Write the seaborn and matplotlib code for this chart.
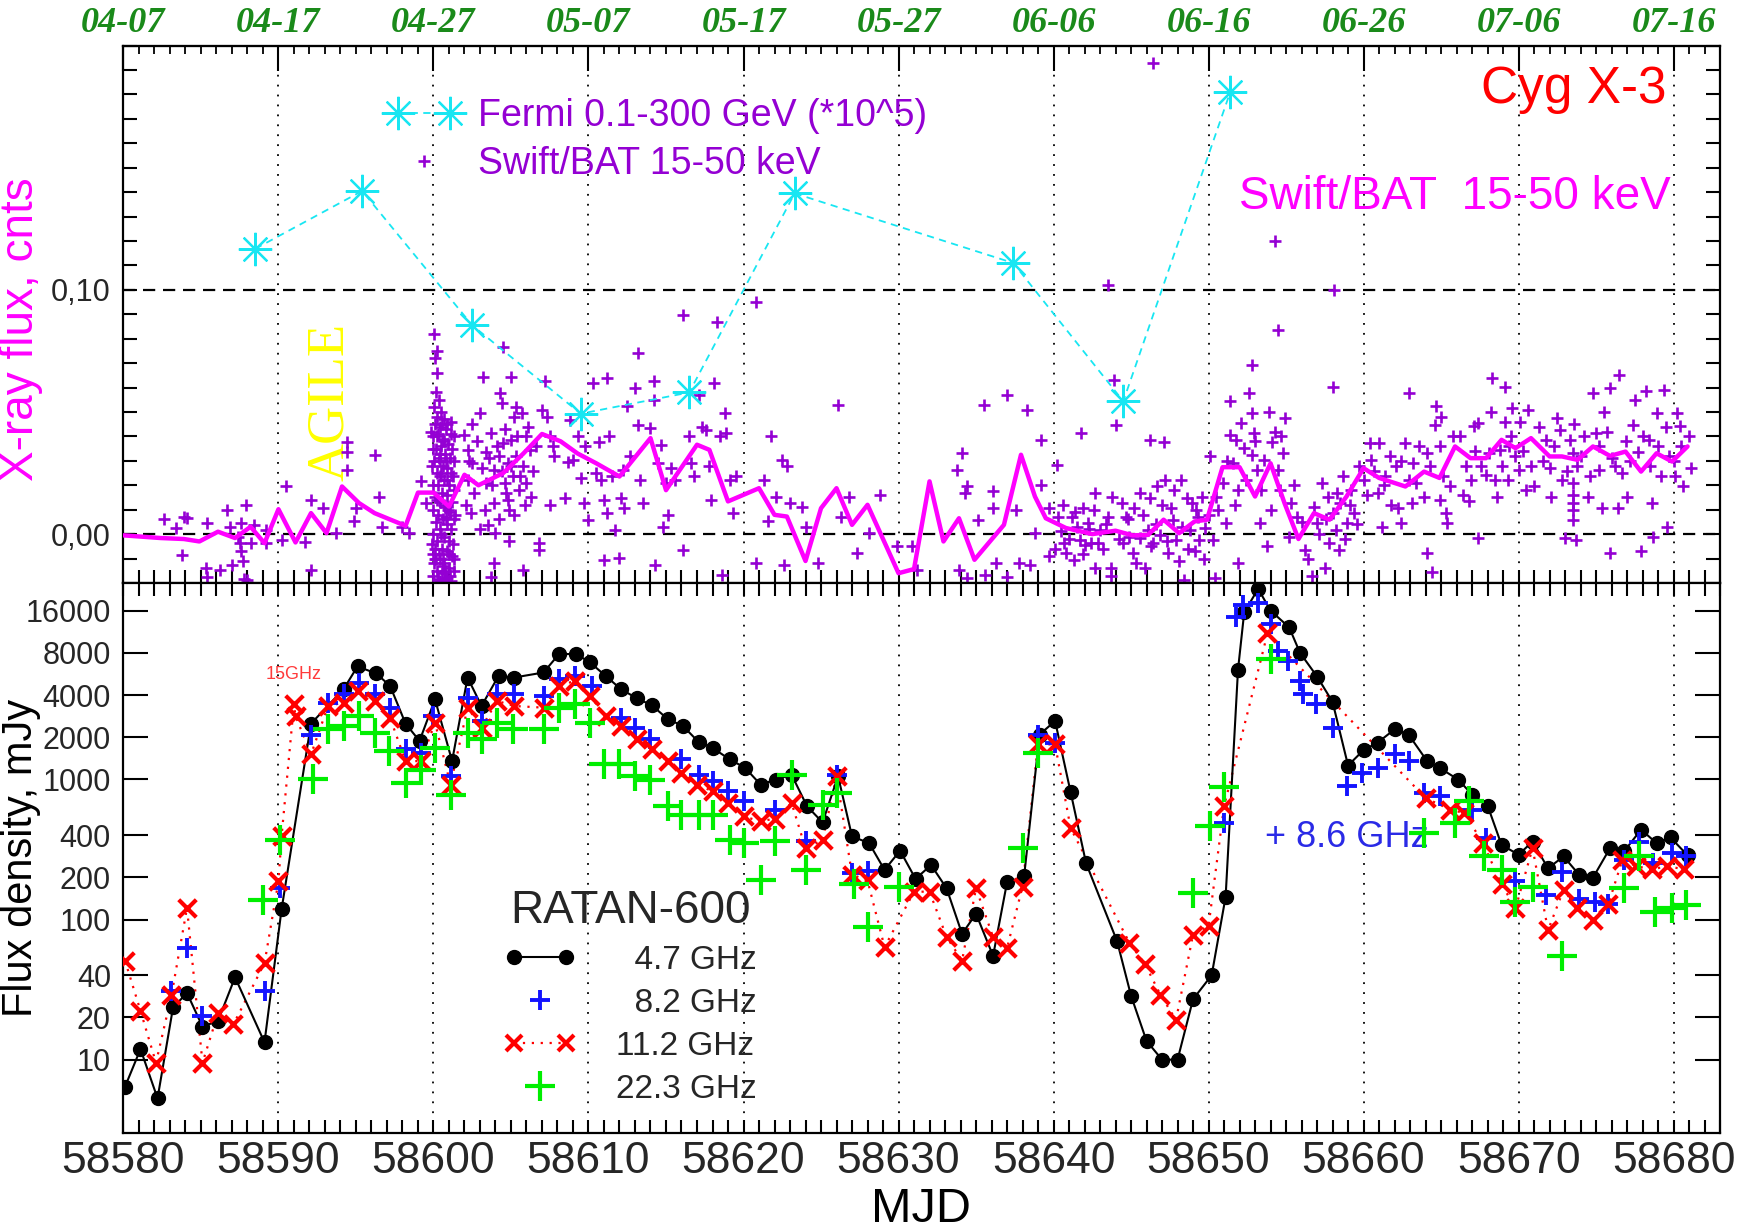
import matplotlib
matplotlib.use("Agg")
import numpy as np
import pandas as pd
import matplotlib.pyplot as plt
import seaborn as sns
from matplotlib.lines import Line2D
from matplotlib.legend_handler import HandlerLine2D
from matplotlib.ticker import FixedLocator, FixedFormatter, MultipleLocator, NullLocator
from matplotlib.font_manager import FontProperties

# ---------------- Swift/BAT 15-50 keV single measurements ----------------
bat_mjd_early = [58583.4, 58583.9, 58584.1, 58583.8, 58585.4, 58585.3, 58585.4, 58586.2, 58586.7, 58586.9,
                 58587.0, 58587.4, 58587.5, 58587.6, 58587.6, 58587.7, 58587.9, 58588.0, 58588.2, 58588.4,
                 58589.2, 58589.2, 58590.2, 58590.5, 58591.7, 58592.1, 58592.1, 58592.9, 58593.7, 58594.4,
                 58594.4, 58594.4, 58594.9, 58595.0, 58596.2, 58596.5, 58596.7, 58598.0, 58598.4, 58599.2,
                 58599.5, 58587.8, 58582.6]
bat_flux_early = [0.0025, 0.0072, 0.0065, -0.0085, 0.0045, -0.014, -0.0176, -0.0146, 0.010, 0.003,
                  -0.0126, -0.001, -0.0037, -0.007, 0.0045, -0.011, 0.012, -0.0187, -0.0037, 0.0038,
                  -0.0037, 0.0018, -0.0023, 0.0195, -0.0034, 0.014, -0.0146, 0.0106, 0.0004, 0.0379,
                  0.0263, 0.0338, 0.0052, 0.0106, 0.0325, 0.0154, 0.003, 0.003, 0.0004, 0.0216,
                  0.0127, -0.0185, 0.006]

bat_mjd_burst = [58599.95, 58600.05, 58600.1, 58600.0, 58600.15, 58599.95, 58600.1, 58600.0, 58600.2, 58600.05,
                 58600.15, 58600.0, 58600.1, 58600.2, 58600.05, 58599.95, 58600.2, 58600.25, 58600.3, 58600.3,
                 58600.35, 58600.3, 58600.4, 58600.4, 58600.45, 58600.4, 58600.45, 58600.5, 58600.45, 58600.55,
                 58600.55, 58600.6, 58600.55, 58600.6, 58600.6, 58600.65, 58600.7, 58600.7, 58600.75, 58600.7,
                 58600.75, 58600.8, 58600.85, 58600.85, 58600.9, 58600.85, 58600.9, 58600.95, 58601.0, 58601.0,
                 58601.05, 58601.0, 58601.05, 58601.1, 58601.15, 58601.2, 58601.15, 58601.2, 58601.25, 58601.2,
                 58600.15, 58600.2, 58600.1, 58600.2, 58600.05, 58600.35, 58600.5, 58601.25, 58601.3, 58601.3,
                 58600.65, 58600.3, 58600.8, 58600.25, 58600.5, 58600.95, 58600.1, 58600.6, 58601.0, 58600.4,
                 58599.9, 58599.9, 58599.85, 58601.3, 58601.35, 58601.35, 58601.3, 58601.4, 58600.35, 58600.5,
                 58600.65, 58600.75, 58600.9, 58601.1, 58600.25, 58600.45, 58600.6, 58600.8, 58601.05, 58600.15,
                 58600.0, 58600.55, 58600.7, 58601.15, 58600.85]
bat_flux_burst = [-0.017, -0.012, -0.006, 0.0, 0.005, 0.010, 0.015, 0.020, 0.025, 0.030,
                  0.035, 0.040, 0.045, 0.048, 0.052, -0.008, -0.015, -0.003, 0.008, 0.020,
                  0.031, 0.041, -0.019, -0.010, 0.002, 0.013, 0.024, 0.036, 0.044, -0.016,
                  -0.006, 0.006, 0.017, 0.028, 0.039, 0.047, -0.012, -0.001, 0.011, 0.022,
                  0.033, 0.043, -0.018, -0.007, 0.004, 0.016, 0.027, 0.037, -0.014, -0.003,
                  0.009, 0.020, 0.031, 0.041, -0.019, -0.009, 0.002, 0.013, 0.024, 0.035,
                  0.058, 0.066, 0.072, 0.075, 0.082, 0.055, 0.050, -0.004, 0.006, -0.015,
                  -0.0185, -0.0185, 0.030, 0.014, 0.0, 0.010, -0.010, -0.013, -0.008, 0.030,
                  0.028, -0.004, 0.042, 0.018, 0.030, -0.010, 0.040, 0.008, -0.008, 0.025,
                  0.012, -0.015, 0.045, 0.025, 0.040, 0.033, -0.010, 0.007, -0.017, -0.010,
                  0.035, 0.045, 0.038, 0.046, 0.022]

bat_mjd_mid = [58602.0, 58602.2, 58602.2, 58602.4, 58602.5, 58603.0, 58603.2, 58603.4, 58603.4, 58603.5,
               58603.7, 58603.9, 58603.9, 58603.9, 58604.0, 58604.2, 58604.3, 58604.4, 58604.5, 58604.6,
               58604.7, 58604.8, 58604.9, 58605.0, 58605.0, 58605.1, 58605.2, 58605.3, 58605.5, 58605.7,
               58605.8, 58605.8, 58606.0, 58606.0, 58606.2, 58606.3, 58604.5, 58603.7, 58606.8, 58606.8,
               58607.0, 58607.2, 58607.3, 58607.5, 58607.7, 58607.5, 58607.8, 58608.5, 58608.7, 58608.8,
               58609.0, 58609.3, 58609.5, 58609.7, 58609.8, 58610.0, 58610.3, 58610.5, 58610.7, 58610.8,
               58611.0, 58611.0, 58611.2, 58611.2, 58611.3, 58611.5, 58611.7, 58612.0, 58612.1, 58612.2,
               58612.3, 58612.5, 58612.7, 58613.0, 58613.2, 58613.2, 58613.3, 58613.5, 58614.0, 58614.2,
               58614.2, 58614.3, 58614.5, 58614.7, 58614.8, 58615.0, 58615.1, 58615.3, 58615.6, 58616.1,
               58616.1, 58616.5, 58616.6, 58616.8, 58617.1, 58617.3, 58617.6, 58617.8, 58617.9, 58618.1,
               58618.3, 58618.5, 58618.6, 58618.8, 58618.9, 58619.1, 58619.3, 58619.5, 58620.8, 58620.8,
               58621.3, 58621.6, 58621.8, 58622.1, 58622.5, 58622.8, 58622.6, 58623.0, 58623.8, 58624.0,
               58624.8, 58626.1, 58626.3, 58626.8, 58627.3, 58628.1, 58628.8, 58629.9, 58630.9,
               58602.1, 58602.3, 58602.6, 58602.8, 58603.1, 58603.3, 58603.6, 58603.8, 58604.1, 58604.2,
               58604.4, 58604.6, 58604.8, 58605.0, 58605.2, 58605.4, 58605.6, 58605.9, 58606.1, 58606.4,
               58603.0, 58604.9, 58602.5, 58605.3, 58606.6]
bat_flux_mid = [0.0407, 0.0345, 0.0222, 0.0086, 0.029, 0.0495, 0.0645, 0.0338, 0.0209, 0.0038,
                0.0413, 0.0263, 0.0127, -0.0119, 0.0004, 0.0318, 0.0577, 0.0536, 0.0372, 0.0209,
                0.0168, 0.029, 0.010, 0.0645, 0.0386, 0.0236, 0.048, 0.0318, 0.0181, 0.0495,
                0.0277, -0.0146, 0.040, 0.0209, 0.0345, 0.0154, 0.0768, -0.0175, -0.0037, -0.0064,
                0.0509, 0.0625, 0.048, 0.040, 0.0359, 0.012, 0.0318, 0.0147, 0.0297, 0.0468,
                0.0304, 0.040, 0.0229, 0.0127, 0.0359, 0.0059, 0.0618, 0.025, 0.0379, 0.0222,
                0.014, -0.0105, 0.0638, 0.0086, 0.040, 0.0236, 0.0018, -0.0098, 0.0147, 0.0263,
                0.0106, 0.0523, 0.0318, 0.0598, 0.0447, 0.0741, 0.0222, 0.0127, 0.0434, 0.0625,
                0.055, -0.0126, 0.029, 0.0366, 0.0031, 0.0209, 0.0079, 0.027, 0.0222, 0.0898,
                -0.0064, 0.040, 0.029, 0.0236, 0.057, 0.044, 0.0427, 0.0277, 0.014, 0.0618,
                0.087, 0.040, -0.0166, 0.0495, 0.0413, 0.0222, 0.0086, 0.0236, 0.0952, -0.0119,
                0.0222, 0.0052, 0.040, 0.0154, 0.0304, 0.0277, -0.0126, 0.0127, 0.0113, 0.0031,
                -0.0119, 0.0529, 0.0072, 0.0154, -0.0078, 0.0004, 0.0161, -0.005, -0.005,
                0.012, 0.030, 0.017, 0.038, 0.027, 0.010, 0.031, 0.020, 0.036, 0.006,
                0.026, 0.043, 0.014, 0.028, 0.008, 0.040, 0.024, 0.012, 0.044, 0.026,
                0.002, -0.003, 0.045, 0.052, 0.036]

bat_mjd_late = [58631.2, 58633.8, 58634.1, 58634.3, 58634.4, 58633.9, 58634.4, 58635.1, 58635.5, 58635.6,
                58636.1, 58636.1, 58636.3, 58637.0, 58637.0, 58637.6, 58637.8, 58638.3, 58638.5, 58638.8,
                58639.2, 58639.2, 58639.7, 58639.7, 58640.2, 58640.3, 58640.5, 58640.7, 58640.8, 58641.2,
                58641.3, 58641.5, 58641.7, 58641.8, 58641.9, 58642.0, 58642.2, 58642.4, 58642.7, 58642.7,
                58642.9, 58643.0, 58643.5, 58643.5, 58643.7, 58643.9, 58643.7, 58644.0, 58644.4, 58644.5,
                58644.7, 58644.9, 58645.1, 58645.2, 58645.6, 58645.6, 58645.9, 58646.1, 58646.2, 58646.2,
                58646.4, 58646.7, 58646.9, 58647.1, 58647.2, 58647.4, 58647.6, 58647.7, 58647.9, 58648.1,
                58648.2, 58648.4, 58648.6, 58648.8, 58648.9, 58649.1, 58649.3, 58649.4, 58649.6, 58649.8,
                58650.1, 58650.3, 58650.4, 58650.6, 58650.9, 58651.1, 58651.4, 58651.4, 58651.6, 58651.8,
                58651.9, 58651.9, 58652.1, 58652.3, 58652.6, 58652.8, 58652.8, 58652.8, 58652.9, 58653.1,
                58653.3, 58653.6, 58653.8, 58653.9, 58654.1, 58654.3, 58654.5, 58654.5, 58654.6, 58654.8,
                58654.9, 58655.2, 58655.3, 58655.7, 58656.2, 58656.7, 58656.8, 58657.0, 58657.3, 58657.5,
                58657.7, 58657.8, 58658.0, 58658.0, 58658.2, 58658.4, 58658.5, 58658.7, 58658.9, 58659.2,
                58659.4, 58659.7, 58660.0, 58660.4, 58660.5, 58660.9, 58661.0, 58661.2, 58661.4, 58661.7,
                58662.1, 58662.2, 58662.4, 58662.7, 58662.9, 58663.1, 58663.2, 58663.4, 58663.9, 58664.1,
                58664.1, 58664.4, 58664.6, 58664.7, 58664.9, 58664.9, 58665.1, 58665.3, 58665.4, 58665.6,
                58665.8, 58666.6, 58666.8, 58666.9, 58667.1, 58667.4, 58667.4, 58667.9, 58668.1, 58668.3,
                58668.5, 58668.6, 58668.8, 58669.1, 58669.1, 58669.3, 58669.5, 58669.6, 58669.8, 58670.0,
                58670.1, 58670.6, 58670.8, 58671.0, 58671.8, 58672.0, 58672.1, 58672.5, 58672.7, 58672.8,
                58673.0, 58673.3, 58673.5, 58673.5, 58673.5, 58673.5, 58673.7, 58673.8, 58674.2, 58674.5,
                58674.8, 58675.0, 58675.2, 58675.4, 58675.5, 58675.9, 58675.9, 58676.0, 58676.4, 58676.5,
                58676.7, 58677.0, 58677.4, 58677.5, 58677.7, 58677.9, 58678.2, 58678.4, 58678.6, 58678.7,
                58678.9, 58679.2, 58679.4, 58679.6, 58679.7, 58680.1, 58680.2, 58680.4, 58680.6, 58681.1,
                58646.4, 58654.3, 58658.1]
bat_flux_late = [-0.0146, 0.0263, 0.0331, 0.0168, 0.0195, -0.0146, -0.018, 0.0059, 0.0529, -0.0166,
                 0.0175, 0.0106, -0.0119, 0.057, -0.0175, 0.010, -0.0119, 0.0509, -0.0126, 0.0004,
                 0.0202, 0.0386, 0.0106, -0.0091, 0.0284, 0.0072, 0.0011, -0.0037, -0.0078, 0.0072,
                 -0.0105, 0.0031, -0.0023, 0.0413, 0.0106, -0.0044, 0.0045, -0.0037, 0.0168, -0.0139,
                 -0.0037, 0.0018, 0.102, 0.0072, -0.0139, 0.0632, -0.0173, 0.0447, 0.0127, -0.0037,
                 0.0072, -0.001, -0.0078, 0.0106, 0.0168, -0.0016, -0.0139, 0.0018, 0.0147, 0.0386,
                 -0.0037, 0.0195, -0.0003, 0.0379, 0.0222, -0.0078, 0.0106, 0.0059, -0.0023, -0.0112,
                 0.0222, -0.0187, 0.0147, 0.0018, 0.0127, -0.0071, 0.0072, -0.0023, 0.0154, 0.0025,
                 0.0318, -0.0023, -0.018, 0.010, 0.0209, 0.0045, 0.0543, 0.0407, 0.029, 0.0386,
                 0.0181, -0.0119, 0.0454, 0.0352, 0.0577, 0.0693, 0.0495, 0.0325, 0.0413, 0.0263,
                 0.0045, 0.0304, -0.005, 0.0502, 0.0379, 0.042, 0.0836, 0.0263, 0.0181, 0.0331,
                 0.0475, -0.001, 0.0127, 0.0072, -0.0064, -0.0173, 0.0113, 0.0045, 0.0209, -0.0139,
                 0.0154, -0.0037, 0.0604, 0.0086, 0.0018, -0.0064, 0.0127, 0.0236, 0.0045, 0.0181,
                 0.0086, 0.0277, 0.0222, 0.0372, 0.0304, 0.0168, 0.0372, 0.0031, 0.0236, 0.0318,
                 0.0277, 0.0106, 0.0045, 0.0372, 0.0577, 0.0127, 0.029, 0.0209, 0.0154, 0.0331,
                 -0.0078, -0.0153, 0.0447, 0.0523, 0.0359, 0.014, 0.0236, 0.0086, 0.0045, 0.0195,
                 0.040, 0.0277, 0.0134, 0.0222, 0.0441, 0.0454, -0.0016, 0.0243, 0.0331, 0.0638,
                 0.0222, 0.0154, 0.0345, 0.0604, 0.0461, 0.0222, 0.040, 0.0516, 0.0318, 0.0263,
                 0.0461, 0.0509, 0.0277, 0.0195, 0.0386, 0.027, 0.0154, 0.0475, 0.0427, 0.0222,
                 -0.0016, 0.0386, 0.0331, 0.0209, 0.0127, 0.0059, -0.0023, 0.0277, 0.040, 0.0154,
                 0.0577, 0.0413, 0.0263, 0.0106, 0.0502, 0.0598, -0.0078, 0.0311, 0.0106, 0.0652,
                 0.025, 0.0154, 0.0447, 0.055, 0.0338, -0.0071, 0.0584, 0.0386, 0.0127, -0.001,
                 0.0495, 0.0236, 0.0591, 0.0031, 0.0318, 0.0236, 0.0495, 0.0441, 0.0195, 0.027,
                 0.193, 0.120, 0.100]

bat_mjd_dense = [58640.1, 58640.6, 58641.0, 58641.4, 58641.9, 58642.3, 58642.6, 58643.2, 58643.4, 58643.8,
                 58644.2, 58644.8, 58645.3, 58645.8, 58646.3, 58646.6, 58647.0, 58647.3, 58647.8, 58648.3,
                 58648.7, 58649.2, 58649.7, 58650.0, 58650.5, 58651.2, 58651.7, 58652.4, 58653.0, 58653.4,
                 58654.0, 58654.7, 58655.5, 58656.0, 58656.4, 58657.1, 58657.6, 58658.3, 58658.8, 58659.1,
                 58659.6, 58660.2, 58660.7, 58661.3, 58661.8, 58662.4, 58662.9, 58663.6, 58664.3, 58665.0,
                 58666.2, 58666.4, 58667.2, 58667.6, 58668.2, 58668.9, 58669.4, 58670.3, 58670.5, 58671.3,
                 58671.6, 58672.3, 58673.1, 58673.6, 58674.0, 58674.6, 58675.2, 58675.7, 58676.2, 58676.9,
                 58677.2, 58678.0, 58678.5, 58679.0, 58679.5, 58680.0, 58680.5, 58681.0, 58673.5, 58673.5]
bat_flux_dense = [-0.006, 0.012, -0.002, 0.009, -0.008, 0.002, 0.010, -0.006, 0.004, 0.015,
                  -0.002, 0.006, -0.012, 0.008, -0.005, 0.004, 0.012, -0.003, 0.018, 0.003,
                  -0.006, 0.010, -0.010, 0.008, 0.015, 0.030, 0.012, 0.022, 0.038, 0.018,
                  0.010, 0.040, 0.020, 0.005, -0.010, 0.000, 0.006, 0.017, -0.002, 0.012,
                  0.004, 0.016, 0.026, 0.020, 0.012, 0.030, 0.022, 0.036, 0.028, 0.048,
                  0.040, 0.016, 0.034, 0.028, 0.050, 0.028, 0.036, 0.034, 0.018, 0.044,
                  0.030, 0.036, 0.026, 0.045, 0.032, 0.024, 0.036, 0.042, 0.028, 0.038,
                  0.030, 0.040, 0.028, 0.036, 0.044, 0.030, 0.036, 0.040, 0.016, 0.010]

# ---------------- Swift/BAT daily mean ----------------
avg_mjd = [58580.0, 58582.4, 58583.9, 58584.9, 58586.1, 58587.2, 58588.2, 58589.1, 58590.0, 58591.1,
           58592.1, 58593.1, 58594.1, 58595.2, 58596.2, 58597.2, 58598.2, 58599.0, 58600.0, 58601.0,
           58602.0, 58602.9, 58604.5, 58605.8, 58607.0, 58608.2, 58609.3, 58610.5, 58612.0, 58614.0,
           58615.0, 58617.0, 58617.8, 58619.0, 58621.0, 58622.0, 58622.8, 58624.0, 58625.0, 58626.0,
           58627.0, 58628.0, 58630.0, 58631.0, 58632.0, 58632.9, 58633.9, 58634.9, 58636.8, 58637.9,
           58638.8, 58639.5, 58640.8, 58642.5, 58644.0, 58645.1, 58646.1, 58647.1, 58648.1, 58649.1,
           58649.9, 58650.9, 58652.0, 58653.0, 58654.0, 58654.9, 58655.8, 58656.8, 58657.8, 58658.9,
           58660.0, 58661.0, 58662.7, 58663.9, 58664.9, 58665.9, 58666.9, 58667.9, 58668.9, 58669.8,
           58670.8, 58672.0, 58672.8, 58673.8, 58674.8, 58675.9, 58676.9, 58677.9, 58678.9, 58679.9,
           58680.9]
avg_flux = [-0.0005, -0.0016, -0.002, -0.003, 0.001, -0.0016, 0.003, -0.0037, 0.0102, -0.0034,
            0.0086, 0.0004, 0.0195, 0.0127, 0.0086, 0.006, 0.0034, 0.017, 0.017, 0.0113,
            0.0243, 0.020, 0.025, 0.033, 0.041, 0.038, 0.033, 0.029, 0.0236, 0.0393,
            0.018, 0.0366, 0.0345, 0.0134, 0.0188, 0.0079, 0.0072, -0.011, 0.0106, 0.0188,
            0.0038, 0.012, -0.016, -0.0143, 0.0216, -0.003, 0.0065, -0.0105, 0.0038, 0.0325,
            0.0154, 0.0065, 0.0025, 0.000, 0.0014, -0.0005, -0.0003, 0.0059, 0.0004, 0.0052,
            0.0059, 0.0274, 0.0274, 0.0154, 0.029, 0.0127, -0.002, 0.0086, 0.0059, 0.0154,
            0.027, 0.023, 0.0195, 0.0256, 0.023, 0.0359, 0.0311, 0.0311, 0.0386, 0.0352,
            0.0393, 0.0318, 0.0318, 0.0304, 0.0359, 0.032, 0.0338, 0.0256, 0.0331, 0.0297,
            0.0359]

# ---------------- Fermi 0.1-300 GeV (scaled by 1e5) ----------------
fermi_mjd = [58588.5, 58595.4, 58602.5, 58609.5, 58616.5, 58623.3, 58637.4, 58644.5, 58651.4]
fermi_flux = [0.1168, 0.1405, 0.0855, 0.0493, 0.0580, 0.1395, 0.111, 0.0544, 0.181]

# ---------------- RATAN-600 flux densities, mJy ----------------
mjd_47 = [58580.1, 58581.1, 58582.2, 58583.2, 58584.1, 58585.1, 58586.1, 58587.2, 58589.1, 58590.2,
          58592.1, 58594.2, 58595.1, 58596.3, 58597.2, 58598.2, 58599.1, 58600.1, 58601.2, 58602.2,
          58603.1, 58604.2, 58605.2, 58607.1, 58608.1, 58609.2, 58610.1, 58611.1, 58612.1, 58613.1,
          58614.1, 58615.1, 58616.1, 58617.1, 58618.0, 58619.1, 58620.1, 58621.1, 58622.1, 58623.1,
          58624.1, 58625.1, 58626.1, 58627.0, 58628.1, 58629.1, 58630.1, 58631.1, 58632.1, 58633.1,
          58634.1, 58635.0, 58636.1, 58637.0, 58638.1, 58639.1, 58640.1, 58641.1, 58642.1, 58644.1,
          58645.0, 58646.0, 58647.0, 58648.0, 58649.0, 58650.2, 58651.1, 58651.9, 58652.3, 58653.2,
          58654.0, 58655.2, 58655.9, 58657.0, 58658.0, 58659.0, 58660.0, 58660.9, 58662.0, 58662.9,
          58664.1, 58664.9, 58666.1, 58667.0, 58668.0, 58668.9, 58670.0, 58670.9, 58671.9, 58672.9,
          58673.9, 58674.8, 58675.9, 58676.8, 58677.9, 58678.9, 58679.8, 58680.9]
flux_47 = [6.4, 11.9, 5.3, 23.6, 29.9, 17.2, 18.9, 38.7, 13.3, 118,
           2500, 4400, 6400, 5700, 4650, 2500, 1880, 3730, 1350, 5330,
           3340, 5480, 5330, 5790, 7840, 7840, 6830, 5480, 4400, 3800,
           3370, 2700, 2400, 1850, 1680, 1390, 1210, 918, 998, 1080,
           643, 493, 1055, 392, 351, 226, 310, 195, 245, 167,
           79, 110, 55, 184, 203, 2090, 2610, 813, 252, 70,
           28.6, 13.6, 10.0, 10.0, 27, 40, 145, 6060, 15560, 22900,
           16000, 12150, 8000, 5420, 3570, 1256, 1620, 1826, 2275, 2090,
           1350, 1208, 998, 779, 650, 341, 290, 360, 232, 282,
           209, 199, 323, 306, 438, 351, 385, 287]

mjd_82 = [58583.1, 58584.1, 58585.1, 58589.1, 58590.1, 58592.1, 58593.2, 58594.2, 58595.2, 58596.2,
          58597.2, 58598.2, 58599.2, 58600.0, 58601.1, 58602.2, 58603.1, 58604.1, 58605.2, 58607.1,
          58608.1, 58609.1, 58610.2, 58612.1, 58613.0, 58614.0, 58616.0, 58617.1, 58618.0, 58619.0,
          58620.0, 58622.0, 58624.0, 58626.0, 58627.0, 58628.0, 58639.0, 58640.1, 58651.0, 58651.8,
          58652.2, 58653.2, 58654.0, 58654.5, 58655.1, 58655.9, 58656.1, 58656.9, 58658.0, 58658.9,
          58659.9, 58660.9, 58662.0, 58662.9, 58663.9, 58664.9, 58667.0, 58667.9, 58669.8, 58671.8,
          58672.8, 58673.9, 58674.9, 58675.8, 58676.8, 58677.8, 58678.7, 58679.9, 58680.8]
flux_82 = [31, 62.5, 20.5, 31, 167, 2090, 3530, 4050, 4910, 4050,
           3250, 1635, 1550, 2830, 1055, 3830, 2610, 4050, 4050, 3940,
           5190, 5480, 4650, 2750, 2340, 1950, 1390, 1083, 970, 823,
           698, 608, 361, 1083, 215, 222, 2090, 1825, 488, 14330,
           17600, 18200, 12800, 8280, 7010, 5045, 4050, 3440, 2340, 893,
           1115, 1208, 1507, 1350, 800, 758, 608, 381, 187, 150,
           220, 141, 134, 130, 267, 360, 253, 299, 282]

mjd_112 = [58580.1, 58581.1, 58582.1, 58583.1, 58584.1, 58585.1, 58586.1, 58587.1, 58589.1, 58590.0,
           58590.2, 58591.0, 58591.1, 58592.1, 58593.2, 58594.2, 58595.1, 58596.2, 58597.2, 58598.2,
           58599.2, 58600.1, 58601.1, 58602.2, 58603.1, 58604.1, 58605.2, 58607.1, 58608.1, 58609.1,
           58610.1, 58611.1, 58612.1, 58613.1, 58614.1, 58615.1, 58616.0, 58617.0, 58618.0, 58619.0,
           58620.0, 58621.1, 58622.0, 58623.1, 58624.0, 58625.1, 58626.0, 58627.0, 58628.0, 58629.1,
           58631.0, 58632.0, 58633.1, 58634.1, 58635.0, 58636.1, 58637.0, 58638.0, 58639.0, 58640.1,
           58641.1, 58644.9, 58645.9, 58646.9, 58647.9, 58649.0, 58650.0, 58651.0, 58653.8, 58664.0,
           58665.6, 58666.5, 58667.7, 58668.9, 58669.8, 58670.9, 58671.9, 58672.9, 58673.8, 58674.8,
           58675.8, 58676.7, 58677.6, 58678.6, 58679.6, 58680.7]
flux_112 = [51, 22.3, 9.5, 28.8, 121, 9.5, 21.4, 17.9, 48.8, 187,
            392, 3440, 2830, 1507, 3340, 3530, 4280, 3630, 2750, 1350,
            1350, 2535, 918, 3250, 2340, 3630, 3340, 3250, 4650, 5040,
            3940, 2830, 2405, 1930, 1640, 1350, 1115, 918, 823, 680,
            545, 501, 525, 680, 323, 367, 1055, 209, 190, 63.5,
            158, 158, 75, 51, 167, 75, 62.5, 172, 1776, 1776,
            450, 68, 48, 29, 19.2, 78, 90, 643, 11000, 736,
            608, 575, 351, 179, 120, 323, 84, 163, 120, 99,
            130, 267, 240, 228, 240, 228]

mjd_223 = [58589.0, 58590.1, 58592.2, 58593.2, 58594.2, 58595.2, 58596.2, 58597.1, 58598.2, 58599.2,
           58600.1, 58601.1, 58602.2, 58603.1, 58604.1, 58605.1, 58607.1, 58608.1, 58609.1, 58610.1,
           58611.0, 58612.0, 58613.0, 58614.0, 58615.1, 58616.0, 58617.1, 58618.0, 58619.1, 58620.0,
           58621.1, 58622.0, 58623.1, 58624.0, 58625.1, 58626.0, 58627.1, 58628.0, 58630.0, 58638.0,
           58639.0, 58649.0, 58650.1, 58651.0, 58654.0, 58663.9, 58665.9, 58666.8, 58667.8, 58668.9,
           58669.8, 58670.9, 58672.8, 58676.8, 58677.8, 58678.8, 58679.9, 58680.8]
flux_223 = [138, 370, 1010, 2275, 2405, 2830, 2150, 1590, 944, 1175,
            1685, 779, 2150, 1930, 2535, 2275, 2275, 3250, 3440, 2535,
            1290, 1290, 1055, 985, 643, 560, 560, 560, 371, 351,
            190, 361, 1083, 226, 661, 800, 179, 88.5, 172, 323,
            1547, 154, 467, 876, 7210, 414, 488, 698, 282, 226,
            134, 172, 54.5, 167, 282, 113, 120, 127]

# ---------------- axes labelling ----------------
mjd_major = [58580, 58590, 58600, 58610, 58620, 58630, 58640, 58650, 58660, 58670, 58680]
date_labels = ["04-07", "04-17", "04-27", "05-07", "05-17", "05-27",
               "06-06", "06-16", "06-26", "07-06", "07-16"]
xray_ticks = [0.0, 0.1]
xray_tick_labels = ["0,00", "0,10"]
radio_ticks = [10, 20, 40, 100, 200, 400, 1000, 2000, 4000, 8000, 16000]
radio_tick_labels = ["10", "20", "40", "100", "200", "400", "1000", "2000", "4000", "8000", "16000"]

PURPLE = "#9400d3"
MAGENTA = "#ff00ff"
CYAN = "#18e6f2"
BLUE = "#1414ff"
RED = "#ff0000"
GREEN = "#00ee00"
DGREEN = "#1a8a1a"

sns.set_theme(style="white")
plt.rcParams["font.family"] = ["Liberation Sans", "DejaVu Sans"]
plt.rcParams["axes.edgecolor"] = "black"
plt.rcParams["axes.linewidth"] = 1.5

fig = plt.figure(figsize=(17.41, 12.32), dpi=100)
ax1 = fig.add_axes([0.0709, 0.5268, 0.9171, 0.4362])
ax2 = fig.add_axes([0.0709, 0.0804, 0.9171, 0.4464], sharex=ax1)

bat = pd.DataFrame({
    "mjd": bat_mjd_early + bat_mjd_burst + bat_mjd_mid + bat_mjd_late + bat_mjd_dense,
    "flux": bat_flux_early + bat_flux_burst + bat_flux_mid + bat_flux_late + bat_flux_dense,
})

# ---------------- upper panel: X-ray / gamma-ray ----------------
for ref in xray_ticks:
    ax1.axhline(ref, color="black", lw=1.6, ls=(0, (5.5, 3.5)), zorder=1)
for x in mjd_major[1:]:
    ax1.axvline(x, color="black", lw=1.3, ls=(0, (1, 4.5)), zorder=0)
sns.scatterplot(data=bat, x="mjd", y="flux", marker="+", color=PURPLE, s=80,
                linewidth=1.9, ax=ax1, zorder=2, legend=False)
sns.lineplot(x=avg_mjd, y=avg_flux, color=MAGENTA, lw=3.2, sort=False, estimator=None,
             ax=ax1, zorder=3)
sns.lineplot(x=fermi_mjd, y=fermi_flux, color=CYAN, lw=1.3, ls=(0, (4, 3)),
             marker=(8, 2, 0), markersize=24, mec=CYAN, mew=1.6, sort=False,
             estimator=None, ax=ax1, zorder=4)

ax1.set_xlim(58580, 58683)
ax1.set_ylim(-0.02, 0.20)
ax1.grid(False)
ax1.set_xlabel("")
ax1.set_ylabel("")
ax1.yaxis.set_major_locator(FixedLocator(xray_ticks))
ax1.yaxis.set_major_formatter(FixedFormatter(xray_tick_labels))
ax1.yaxis.set_minor_locator(MultipleLocator(0.01))
ax1.xaxis.set_major_locator(FixedLocator(mjd_major))
ax1.xaxis.set_minor_locator(MultipleLocator(1))
ax1.tick_params(axis="x", which="both", direction="in", length=9.5, width=1.5,
                bottom=True, top=False, labelbottom=False, color="black")
ax1.tick_params(axis="y", which="both", direction="in", length=10, width=1.5,
                left=True, right=True, labelsize=22, pad=9, color="black")

top = ax1.secondary_xaxis("top")
top.xaxis.set_major_locator(FixedLocator(mjd_major))
top.xaxis.set_major_formatter(FixedFormatter(date_labels))
top.xaxis.set_minor_locator(MultipleLocator(1))
top.tick_params(which="major", direction="in", length=18, width=1.5, pad=4, color="black")
top.tick_params(which="minor", direction="in", length=6, width=1.3, color="black")
for lbl in top.get_xticklabels():
    lbl.set_fontfamily(["Liberation Serif", "DejaVu Serif"])
    lbl.set_fontweight("bold")
    lbl.set_fontstyle("italic")
    lbl.set_fontsize(26)
    lbl.set_color(DGREEN)

h_fermi = Line2D([], [], color=CYAN, lw=1.3, ls=(0, (4, 3)), marker=(8, 2, 0),
                 markersize=24, mec=CYAN, mew=1.6)
h_bat = Line2D([], [], color=PURPLE, lw=0, marker="+", markersize=8, mew=1.9)
ax1.legend(handles=[h_fermi, h_bat],
           labels=["Fermi 0.1-300 GeV (*10^5)", "Swift/BAT 15-50 keV"],
           loc="upper left", bbox_to_anchor=(0.1647, 0.9025), frameon=False, fontsize=27,
           labelcolor=PURPLE, handlelength=2.0, handletextpad=0.45, borderpad=0,
           borderaxespad=0, labelspacing=0.32,
           handler_map={h_fermi: HandlerLine2D(numpoints=2), h_bat: HandlerLine2D(numpoints=1)})

ax1.text(0.9085, 0.919, "Cyg X-3", transform=ax1.transAxes, color=RED, fontsize=37,
         ha="center", va="center")
ax1.text(0.8337, 0.719, "Swift/BAT  15-50 keV", transform=ax1.transAxes, color=MAGENTA,
         fontsize=33, ha="center", va="center")
ax1.text(0.1292, 0.337, "AGILE", transform=ax1.transAxes, color="#ffff00", fontsize=38,
         family=["Liberation Serif", "DejaVu Serif"], rotation=90, ha="center", va="center",
         zorder=1)

# ---------------- lower panel: RATAN-600 ----------------
for x in mjd_major[1:]:
    ax2.axvline(x, color="black", lw=1.3, ls=(0, (1, 4.5)), zorder=0)
sns.lineplot(x=mjd_47, y=flux_47, color="black", lw=1.5, marker="o", markersize=10,
             mec="black", mew=1.0, sort=False, estimator=None, ax=ax2, zorder=3)
sns.scatterplot(x=mjd_82, y=flux_82, marker="+", color=BLUE, s=210, linewidth=2.8,
                ax=ax2, zorder=4, legend=False)
sns.lineplot(x=mjd_112, y=flux_112, color=RED, lw=1.6, ls=(0, (1, 3)), sort=False,
             estimator=None, ax=ax2, zorder=2)
sns.scatterplot(x=mjd_112, y=flux_112, marker="x", color=RED, s=160, linewidth=3.0,
                ax=ax2, zorder=5, legend=False)
sns.scatterplot(x=mjd_223, y=flux_223, marker="+", color=GREEN, s=480, linewidth=3.0,
                ax=ax2, zorder=6, legend=False)

ax2.set_yscale("log")
ax2.set_ylim(3.0, 25200)
ax2.set_xlim(58580, 58683)
ax2.grid(False)
ax2.set_xlabel("")
ax2.set_ylabel("")
ax2.yaxis.set_major_locator(FixedLocator(radio_ticks))
ax2.yaxis.set_major_formatter(FixedFormatter(radio_tick_labels))
ax2.yaxis.set_minor_locator(NullLocator())
ax2.xaxis.set_major_locator(FixedLocator(mjd_major))
ax2.xaxis.set_minor_locator(MultipleLocator(1))
ax2.tick_params(axis="y", which="major", direction="in", length=18, width=1.5,
                left=True, right=True, labelsize=22, pad=9, color="black")
ax2.tick_params(axis="x", which="both", direction="in", length=9.5, width=1.5,
                bottom=True, top=True, labelsize=32, pad=6, color="black")

h47 = Line2D([], [], color="black", lw=1.5, marker="o", markersize=10, mec="black")
h82 = Line2D([], [], color=BLUE, lw=0, marker="+", markersize=14, mew=2.8)
h112 = Line2D([], [], color=RED, lw=1.6, ls=(0, (1, 3)), marker="x", markersize=12, mew=3.0)
h223 = Line2D([], [], color=GREEN, lw=0, marker="+", markersize=22, mew=3.0)
ax2.legend(handles=[h47, h82, h112, h223],
           labels=["  4.7 GHz", "  8.2 GHz", "11.2 GHz", "22.3 GHz"],
           title="RATAN-600", loc="upper left", bbox_to_anchor=(0.2384, 0.4436),
           frameon=False, prop=FontProperties(size=24),
           title_fontproperties=FontProperties(size=33),
           handlelength=2.15, handletextpad=1.2, borderpad=0, borderaxespad=0,
           labelspacing=0.36,
           handler_map={h47: HandlerLine2D(numpoints=2), h112: HandlerLine2D(numpoints=2),
                        h82: HandlerLine2D(numpoints=1), h223: HandlerLine2D(numpoints=1)})

ax2.text(0.766, 0.538, "+ 8.6 GHz", transform=ax2.transAxes, color="#2a2ae6", fontsize=26,
         ha="center", va="center")
ax2.text(0.1063, 0.833, "15GHz", transform=ax2.transAxes, color="#ff3a3a", fontsize=13,
         ha="center", va="center")

fig.text(0.012, 0.733, "X-ray flux, cnts", color=MAGENTA, fontsize=33, rotation=90,
         ha="center", va="center")
fig.text(0.012, 0.304, "Flux density, mJy", color="black", fontsize=30, rotation=90,
         ha="center", va="center")
fig.text(0.529, 0.018, "MJD", color="black", fontsize=35, ha="center", va="center")

for ax in (ax1, ax2):
    for side in ("top", "bottom", "left", "right"):
        ax.spines[side].set_visible(True)
        ax.spines[side].set_color("black")
        ax.spines[side].set_linewidth(1.6)

fig.savefig("out.png", dpi=100, facecolor="white")
